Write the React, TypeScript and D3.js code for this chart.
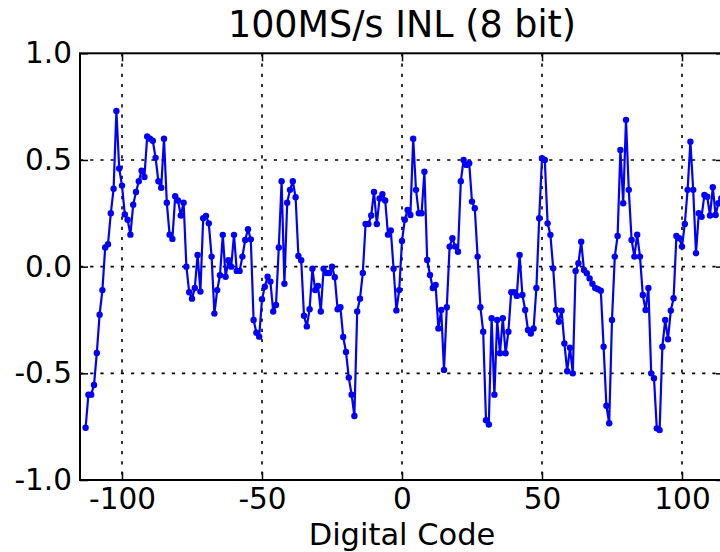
import React, { useEffect, useRef } from "react";
import * as d3 from "d3";

// INL per digital code (codes -113 .. 114)
const firstCode = -113;
const inl = [
  -0.755, -0.6, -0.6, -0.555, -0.405, -0.225, -0.11, 0.09, 0.105, 0.25,
  0.365, 0.73, 0.46, 0.38, 0.245, 0.22, 0.15, 0.29, 0.35, 0.4,
  0.45, 0.42, 0.61, 0.6, 0.59, 0.51, 0.4, 0.37, 0.6, 0.3,
  0.15, 0.13, 0.33, 0.31, 0.24, 0.3, 0.0, -0.12, -0.15, -0.1,
  0.055, -0.117, 0.227, 0.238, 0.203, 0.047, -0.22, -0.11, -0.04, 0.149,
  -0.047, 0.03, 0.0, 0.149, -0.02, -0.02, 0.047, 0.125, 0.175, 0.128,
  -0.25, -0.31, -0.328, -0.153, -0.094, -0.047, -0.07, -0.21, -0.18, 0.09,
  0.4, -0.08, 0.3, 0.36, 0.4, 0.325, 0.05, 0.03, -0.23, -0.28,
  -0.2, -0.01, -0.11, -0.09, -0.21, -0.01, -0.03, -0.03, 0.0, -0.05,
  -0.2, -0.19, -0.33, -0.4, -0.52, -0.6, -0.7, -0.21, -0.15, -0.03,
  0.2, 0.2, 0.24, 0.35, 0.2, 0.32, 0.34, 0.31, 0.15, 0.17,
  -0.01, -0.205, -0.11, 0.12, 0.22, 0.266, 0.242, 0.6, 0.36, 0.25,
  0.25, 0.445, 0.031, -0.039, -0.1, -0.086, -0.29, -0.203, -0.484, -0.19,
  0.094, 0.133, 0.094, 0.07, 0.4, 0.5, 0.477, 0.485, 0.305, 0.274,
  0.047, -0.19, -0.305, -0.72, -0.74, -0.242, -0.6, -0.25, -0.406, -0.242,
  -0.406, -0.305, -0.12, -0.12, -0.137, 0.055, -0.133, -0.203, -0.297, -0.313,
  -0.29, -0.1, 0.227, 0.508, 0.5, 0.203, 0.149, -0.008, -0.203, -0.258,
  -0.206, -0.36, -0.49, -0.38, -0.5, -0.02, 0.016, 0.117, -0.016, -0.031,
  -0.055, -0.08, -0.1, -0.106, -0.113, -0.375, -0.652, -0.734, -0.25, 0.047,
  0.144, 0.547, 0.297, 0.688, 0.36, 0.125, 0.047, 0.15, 0.047, -0.133,
  -0.203, -0.1, -0.5, -0.523, -0.758, -0.766, -0.375, -0.25, -0.34, -0.206,
  -0.148, 0.144, 0.133, 0.094, 0.2, 0.36, 0.586, 0.36, 0.063, 0.25,
  0.234, 0.336, 0.328, 0.24, 0.372, 0.242, 0.297, 0.32,
];
const codes = inl.map((_, i) => firstCode + i);

const xTicks = [-100, -50, 0, 50, 100];
const yTicks = [-1.0, -0.5, 0.0, 0.5, 1.0];
const title = "100MS/s INL (8 bit)";
const xLabel = "Digital Code";

export default function App() {
  const ref = useRef(null);

  useEffect(() => {
    const svg = d3.select(ref.current);
    svg.selectAll("*").remove();

    const width = 720;
    const height = 552;
    const margin = { top: 53.3, right: -4, bottom: 72, left: 80 };
    const font = "DejaVu Sans, sans-serif";

    const x = d3
      .scaleLinear()
      .domain([-115, 115])
      .range([margin.left, width - margin.right]);
    const y = d3
      .scaleLinear()
      .domain([-1, 1])
      .range([height - margin.bottom, margin.top]);

    const x0 = x.range()[0];
    const x1 = x.range()[1];
    const y0 = y.range()[0];
    const y1 = y.range()[1];

    svg.append("rect").attr("width", width).attr("height", height).attr("fill", "#fff");

    // grid
    const grid = svg.append("g").attr("stroke", "#000").attr("stroke-width", 1.6).attr("stroke-dasharray", "3.2,7");
    grid
      .selectAll("line.gx")
      .data(xTicks)
      .enter()
      .append("line")
      .attr("x1", (d) => x(d))
      .attr("x2", (d) => x(d))
      .attr("y1", y1)
      .attr("y2", y0);
    grid
      .selectAll("line.gy")
      .data(yTicks.slice(1, -1))
      .enter()
      .append("line")
      .attr("x1", x0)
      .attr("x2", x1)
      .attr("y1", (d) => y(d))
      .attr("y2", (d) => y(d));

    // data
    svg.append("defs").append("clipPath").attr("id", "plotclip")
      .append("rect").attr("x", x0).attr("y", y1).attr("width", x1 - x0).attr("height", y0 - y1);

    const pts = codes.map((c, i) => [c, inl[i]]);
    const plot = svg.append("g").attr("clip-path", "url(#plotclip)");
    plot
      .append("path")
      .datum(pts)
      .attr("fill", "none")
      .attr("stroke", "#0000ff")
      .attr("stroke-width", 2.2)
      .attr("stroke-linejoin", "round")
      .attr("d", d3.line().x((d) => x(d[0])).y((d) => y(d[1])));
    plot
      .selectAll("circle")
      .data(pts)
      .enter()
      .append("circle")
      .attr("cx", (d) => x(d[0]))
      .attr("cy", (d) => y(d[1]))
      .attr("r", 3.2)
      .attr("fill", "#0000ff");

    // axes, ticks pointing inward
    const styleAxis = (g) => {
      g.select(".domain").remove();
      g.selectAll(".tick line").attr("stroke", "#000").attr("stroke-width", 1.5);
      g.selectAll(".tick text").attr("fill", "#000").attr("font-family", font).attr("font-size", 29.5);
    };
    const fmtY = (d) => d3.format(".1f")(d).replace("−", "-");
    const fmtX = (d) => String(d);

    svg
      .append("g")
      .attr("transform", `translate(0,${y0})`)
      .call(d3.axisBottom(x).tickValues(xTicks).tickSize(-8).tickPadding(8).tickFormat(fmtX))
      .call(styleAxis);
    svg
      .append("g")
      .attr("transform", `translate(0,${y1})`)
      .call(d3.axisTop(x).tickValues(xTicks).tickSize(-8).tickFormat(() => ""))
      .call(styleAxis);
    svg
      .append("g")
      .attr("transform", `translate(${x0},0)`)
      .call(d3.axisLeft(y).tickValues(yTicks).tickSize(-8).tickPadding(8).tickFormat(fmtY))
      .call(styleAxis);
    svg
      .append("g")
      .attr("transform", `translate(${x1},0)`)
      .call(d3.axisRight(y).tickValues(yTicks).tickSize(-8).tickFormat(() => ""))
      .call(styleAxis);

    // frame
    svg
      .append("rect")
      .attr("x", x0)
      .attr("y", y1)
      .attr("width", x1 - x0)
      .attr("height", y0 - y1)
      .attr("fill", "none")
      .attr("stroke", "#000")
      .attr("stroke-width", 2);

    svg
      .append("text")
      .attr("x", (x0 + x1) / 2)
      .attr("y", 37)
      .attr("text-anchor", "middle")
      .attr("font-family", font)
      .attr("font-size", 36.5)
      .text(title);

    svg
      .append("text")
      .attr("x", (x0 + x1) / 2)
      .attr("y", 545)
      .attr("text-anchor", "middle")
      .attr("font-family", font)
      .attr("font-size", 30.5)
      .text(xLabel);
  }, []);

  return (
    <svg
      ref={ref}
      width={720}
      height={552}
      style={{ position: "absolute", left: 0, top: 0, display: "block" }}
    />
  );
}
